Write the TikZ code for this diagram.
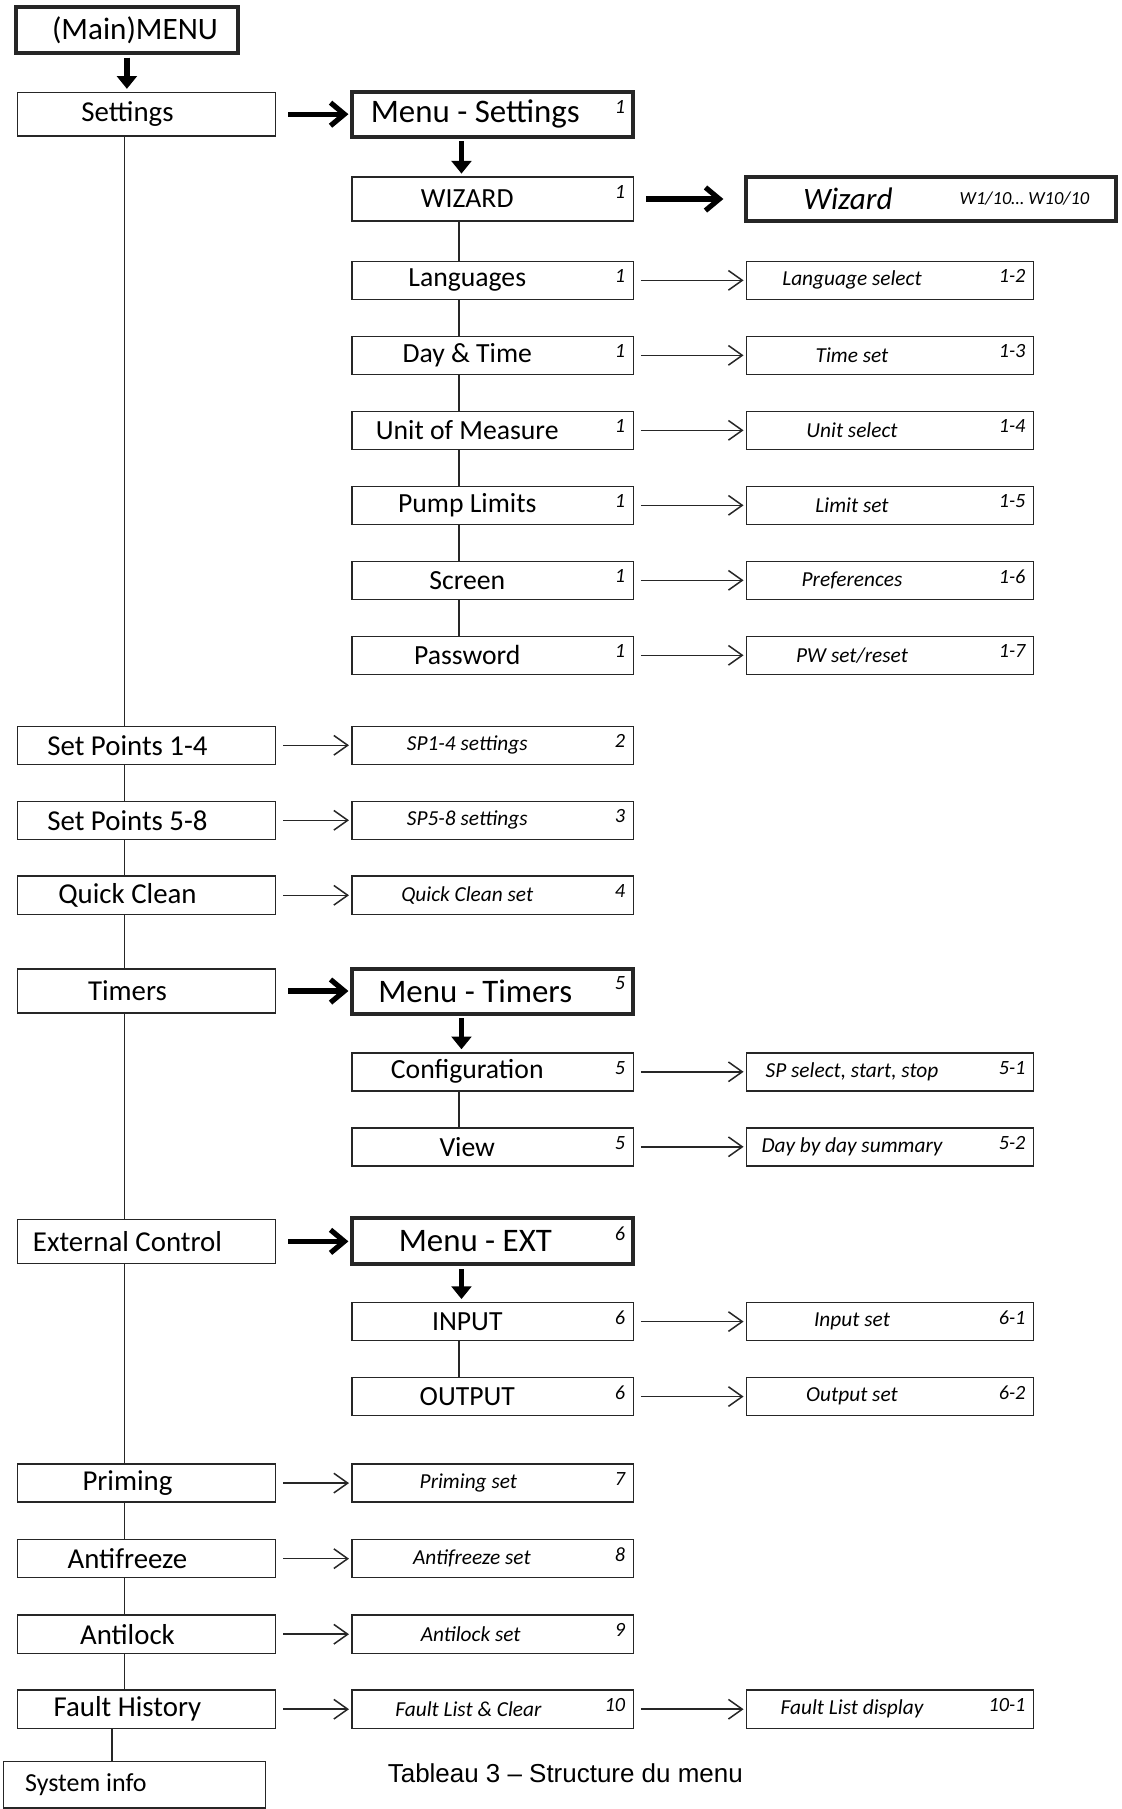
\documentclass[tikz,border=0pt]{standalone}
\usepackage{fontspec}
\setmainfont{Carlito}
\newfontfamily\captionfont{Liberation Sans}
\usetikzlibrary{arrows.meta, positioning}

% number in the top right corner of a box
\newcommand{\boxtag}[2]{\node[numtag] (#1-tag) at ([xshift=-7pt,yshift=-7pt]#1.north east) {#2};}

\begin{document}
\begin{tikzpicture}[
  x=1pt, y=-1pt,
  box/.style={rectangle, draw=black!85, line width=1.3pt, fill=white, inner sep=0pt, outer sep=0pt, minimum height=33pt, font=\fontsize{24}{28}\selectfont},
  textleft/.style={execute at end node={\hspace{#1}}},
  leftbox/.style={box, minimum width=224pt, textleft=33pt, font=\fontsize{25}{28}\selectfont},
  midbox/.style={box, minimum width=244pt, textleft=44pt},
  midset/.style={box, minimum width=244pt, font=\itshape\fontsize{18.5}{21}\selectfont},
  subbox/.style={box, minimum width=249pt, textleft=66pt, font=\itshape\fontsize{18.5}{21}\selectfont},
  menubox/.style={box, minimum width=244pt, line width=3.5pt, minimum height=39pt, textleft=30pt, font=\fontsize{28.5}{32}\selectfont},
  numtag/.style={anchor=north east, inner sep=0pt, font=\itshape\fontsize{17.5}{20}\selectfont},
  link/.style={draw=black!85, line width=1.2pt},
  arrow/.style={-{Straight Barb[length=12pt,width=17pt]}, line width=1.3pt, draw=black!85, shorten <=6.5pt, shorten >=2.5pt},
  bigarrow/.style={-{Straight Barb[length=12pt,width=20pt]}, line width=4.5pt, shorten <=11pt, shorten >=3pt},
  downarrow/.style={-{Triangle[length=11pt,width=17pt]}, line width=5pt, shorten <=4pt, shorten >=3pt}
]
\path[use as bounding box, fill=white] (0,0) rectangle (972,1568);

% main column
\node (mainmenu) [box, line width=3.5pt, minimum width=192pt, minimum height=40pt, execute at begin node={\hspace{14pt}}, font=\fontsize{27}{30}\selectfont] at (110,26) {(Main)MENU};
\node (settings) [leftbox, minimum height=38pt] at (127,99) {Settings};
\node (sp14) [leftbox] at (127,646) {Set Points 1-4};
\node (sp58) [leftbox] at (127,711) {Set Points 5-8};
\node (qclean) [leftbox] at (127,776) {Quick Clean};
\node (timers) [leftbox, minimum height=38pt] at (127,859) {Timers};
\node (ext) [leftbox, minimum height=38pt] at (127,1076) {External Control};
\node (priming) [leftbox] at (127,1285.5) {Priming};
\node (antifreeze) [leftbox] at (127,1351) {Antifreeze};
\node (antilock) [leftbox] at (127,1416.5) {Antilock};
\node (fault) [leftbox] at (127,1481.5) {Fault History};
\node (sysinfo) [box, minimum width=227pt, minimum height=40pt, textleft=84pt, font=\fontsize{22.5}{26}\selectfont] at (116.5,1547) {System info};

% settings menu
\node (msettings) [menubox, right=66pt of settings] {Menu - Settings};
\node (wizard) [midbox, minimum height=38pt, below=35pt of msettings] {WIZARD};
\node (wizbox) [box, line width=3.5pt, minimum width=320pt, minimum height=38pt, textleft=144pt, font=\itshape\fontsize{27}{30}\selectfont, right=98pt of wizard] {Wizard};
\node (wizrange) [inner sep=0pt, font=\itshape\fontsize{16}{18}\selectfont] at ([xshift=-79pt]wizbox.east) {W1/10… W10/10};
\node (lang) [midbox, below=35pt of wizard] {Languages};
\node (daytime) [midbox, below=32pt of lang] {Day \& Time};
\node (unit) [midbox, below=32pt of daytime] {Unit of Measure};
\node (pump) [midbox, below=32pt of unit] {Pump Limits};
\node (screen) [midbox, below=32pt of pump] {Screen};
\node (password) [midbox, below=32pt of screen] {Password};
\node (langsel) [subbox, right=98pt of lang] {Language select};
\node (timeset) [subbox, right=98pt of daytime] {Time set};
\node (unitsel) [subbox, right=98pt of unit] {Unit select};
\node (limitset) [subbox, right=98pt of pump] {Limit set};
\node (pref) [subbox, right=98pt of screen] {Preferences};
\node (pwset) [subbox, right=98pt of password] {PW set/reset};

% set points and quick clean
\node (sp14set) [midset, textleft=44pt, right=66pt of sp14] {SP1-4 settings};
\node (sp58set) [midset, textleft=44pt, right=66pt of sp58] {SP5-8 settings};
\node (qcset) [midset, textleft=44pt, right=66pt of qclean] {Quick Clean set};

% timers menu
\node (mtimers) [menubox, right=66pt of timers] {Menu - Timers};
\node (config) [midbox, below=34pt of mtimers] {Configuration};
\node (view) [midbox, below=32pt of config] {View};
\node (spsel) [subbox, right=98pt of config] {SP select, start, stop};
\node (daysum) [subbox, right=98pt of view] {Day by day summary};

% external control menu
\node (mext) [menubox, minimum height=40pt, right=66pt of ext] {Menu - EXT};
\node (input) [midbox, below=33pt of mext] {INPUT};
\node (output) [midbox, below=32pt of input] {OUTPUT};
\node (inset) [subbox, right=98pt of input] {Input set};
\node (outset) [subbox, right=98pt of output] {Output set};

% remaining entries
\node (primset) [midset, textleft=42pt, right=66pt of priming] {Priming set};
\node (afset) [midset, textleft=36pt, right=66pt of antifreeze] {Antifreeze set};
\node (alset) [midset, textleft=38pt, right=66pt of antilock] {Antilock set};
\node (flset) [midset, textleft=42pt, right=66pt of fault] {Fault List \& Clear};
\node (fldisp) [subbox, right=98pt of flset] {Fault List display};

\node (caption) [font=\captionfont\fontsize{22.5}{26}\selectfont] at (490,1537) {Tableau 3 – Structure du menu};

% numbers
\boxtag{msettings}{1}
\boxtag{wizard}{1}
\boxtag{lang}{1}
\boxtag{daytime}{1}
\boxtag{unit}{1}
\boxtag{pump}{1}
\boxtag{screen}{1}
\boxtag{password}{1}
\boxtag{langsel}{1-2}
\boxtag{timeset}{1-3}
\boxtag{unitsel}{1-4}
\boxtag{limitset}{1-5}
\boxtag{pref}{1-6}
\boxtag{pwset}{1-7}
\boxtag{sp14set}{2}
\boxtag{sp58set}{3}
\boxtag{qcset}{4}
\boxtag{mtimers}{5}
\boxtag{config}{5}
\boxtag{view}{5}
\boxtag{spsel}{5-1}
\boxtag{daysum}{5-2}
\boxtag{mext}{6}
\boxtag{input}{6}
\boxtag{output}{6}
\boxtag{inset}{6-1}
\boxtag{outset}{6-2}
\boxtag{primset}{7}
\boxtag{afset}{8}
\boxtag{alset}{9}
\boxtag{flset}{10}
\boxtag{fldisp}{10-1}

% vertical links
\draw[link] ([xshift=-19pt]settings.south) -- ([xshift=-19pt]sp14.north)
  ([xshift=-19pt]sp14.south) -- ([xshift=-19pt]sp58.north)
  ([xshift=-19pt]sp58.south) -- ([xshift=-19pt]qclean.north)
  ([xshift=-19pt]qclean.south) -- ([xshift=-19pt]timers.north)
  ([xshift=-19pt]timers.south) -- ([xshift=-19pt]ext.north)
  ([xshift=-19pt]ext.south) -- ([xshift=-19pt]priming.north)
  ([xshift=-19pt]priming.south) -- ([xshift=-19pt]antifreeze.north)
  ([xshift=-19pt]antifreeze.south) -- ([xshift=-19pt]antilock.north)
  ([xshift=-19pt]antilock.south) -- ([xshift=-19pt]fault.north);
\draw[link] ([xshift=-30pt]fault.south) -- ([xshift=-30pt]fault.south |- sysinfo.north);
\draw[link] ([xshift=-29pt]wizard.south) -- ([xshift=-29pt]lang.north)
  ([xshift=-29pt]lang.south) -- ([xshift=-29pt]daytime.north)
  ([xshift=-29pt]daytime.south) -- ([xshift=-29pt]unit.north)
  ([xshift=-29pt]unit.south) -- ([xshift=-29pt]pump.north)
  ([xshift=-29pt]pump.south) -- ([xshift=-29pt]screen.north)
  ([xshift=-29pt]screen.south) -- ([xshift=-29pt]password.north);
\draw[link] ([xshift=-29pt]config.south) -- ([xshift=-29pt]view.north);
\draw[link] ([xshift=-29pt]input.south) -- ([xshift=-29pt]output.north);

% bold arrows
\draw[downarrow] (mainmenu.south) -- (mainmenu.south |- settings.north);
\draw[bigarrow] (settings) -- (msettings);
\draw[downarrow] ([xshift=-27pt]msettings.south) -- ([xshift=-27pt]wizard.north);
\draw[bigarrow, shorten >=20pt] (wizard) -- (wizbox);
\draw[bigarrow] (timers) -- (mtimers);
\draw[downarrow] ([xshift=-27pt]mtimers.south) -- ([xshift=-27pt]config.north);
\draw[bigarrow] (ext) -- (mext);
\draw[downarrow] ([xshift=-27pt]mext.south) -- ([xshift=-27pt]input.north);

% thin arrows
\draw[arrow] (lang) -- (langsel);
\draw[arrow] (daytime) -- (timeset);
\draw[arrow] (unit) -- (unitsel);
\draw[arrow] (pump) -- (limitset);
\draw[arrow] (screen) -- (pref);
\draw[arrow] (password) -- (pwset);
\draw[arrow] (sp14) -- (sp14set);
\draw[arrow] (sp58) -- (sp58set);
\draw[arrow] (qclean) -- (qcset);
\draw[arrow] (config) -- (spsel);
\draw[arrow] (view) -- (daysum);
\draw[arrow] (input) -- (inset);
\draw[arrow] (output) -- (outset);
\draw[arrow] (priming) -- (primset);
\draw[arrow] (antifreeze) -- (afset);
\draw[arrow] (antilock) -- (alset);
\draw[arrow] (fault) -- (flset);
\draw[arrow] (flset) -- (fldisp);

\end{tikzpicture}
\end{document}
